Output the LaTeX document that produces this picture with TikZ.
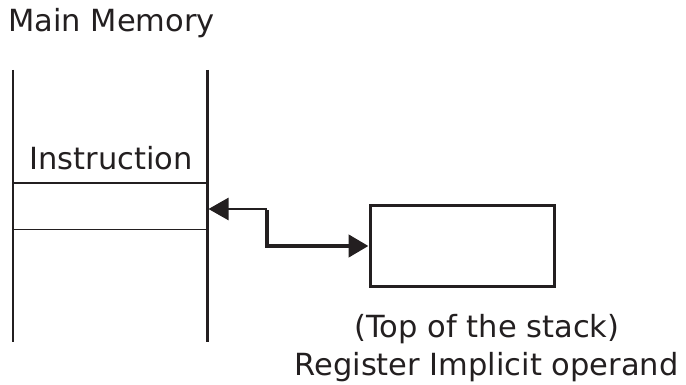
\documentclass[tikz,border=0pt]{standalone}
\usepackage{fontspec}
\setmainfont{DejaVu Sans}
\usetikzlibrary{arrows.meta}
\definecolor{ink}{RGB}{35,31,32}
\tikzset{
  lbl/.style={inner sep=0pt, anchor=base, text=ink, font=\fontsize{30.5}{36}\selectfont},
  thinrule/.style={draw=ink, line width=1.6pt},
  thickrule/.style={draw=ink, line width=3pt},
  regbox/.style={draw=ink, line width=3pt, minimum width=184pt, minimum height=81pt, inner sep=0pt},
  tip/.style={-{Triangle[length=20pt 0 0,width=22pt 0 0]}},
  linkthin/.style={draw=ink, line width=2.6pt},
  linkthick/.style={draw=ink, line width=4.6pt},
}
\begin{document}
\begin{tikzpicture}[x=1pt,y=-1pt]
\useasboundingbox (0,0) rectangle (686,385);
% memory column
\coordinate (mlt) at (13,70);
\coordinate (mlb) at (13,342);
\coordinate (mrt) at (207,70);
\coordinate (mrb) at (207,342);
\coordinate (h1l) at (13,183);
\coordinate (h1r) at (207,183);
\coordinate (h2l) at (13,229.5);
\coordinate (h2r) at (207,229.5);
\coordinate (mport) at (208.5,209);
\draw[thinrule] (mlt) -- (mlb);
\draw[thickrule] (mrt) -- (mrb);
\draw[thinrule] (h1l) -- (h1r);
\draw[thinrule] (h2l) -- (h2r);
\node[lbl, anchor=base west] (title) at (8,32) {Main Memory};
\node[lbl] (instr) at (111,170) {Instruction};
% register
\node[regbox] (reg) at (462,246) {};
\node[lbl] (cap1) at (487,337) {(Top of the stack)};
\node[lbl] (cap2) at (486.5,375) {Register Implicit operand};
% connector
\coordinate (bend) at (267,209);
\draw[linkthin, tip] (bend) -- (mport);
\draw[linkthick, tip] ([yshift=-1.3pt]bend) |- (reg.west);
\end{tikzpicture}
\end{document}
